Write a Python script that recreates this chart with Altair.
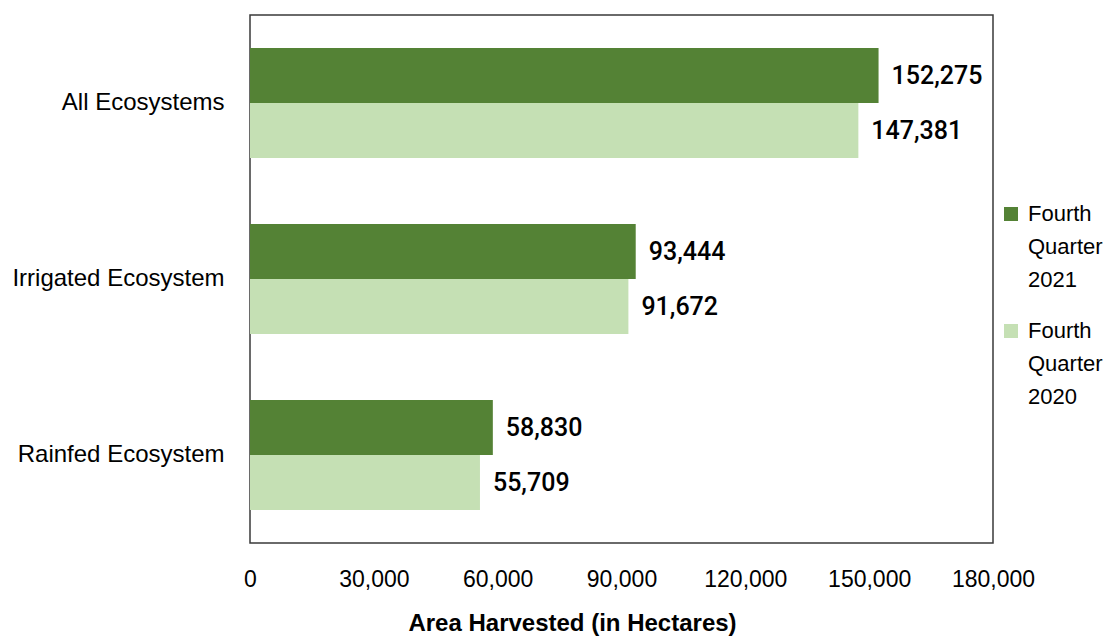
import altair as alt
import pandas as pd

categories = ["All Ecosystems", "Irrigated Ecosystem", "Rainfed Ecosystem"]
series = ["Fourth Quarter 2021", "Fourth Quarter 2020"]
values_2021 = [152275, 93444, 58830]
values_2020 = [147381, 91672, 55709]
x_ticks = [0, 30000, 60000, 90000, 120000, 150000, 180000]

rows = []
for c, v in zip(categories, values_2021):
    rows.append({"cat": c, "series": series[0], "value": v})
for c, v in zip(categories, values_2020):
    rows.append({"cat": c, "series": series[1], "value": v})
df = pd.DataFrame(rows)

FONT = "Liberation Sans"

y = alt.Y("cat:N", sort=categories, title=None,
          scale=alt.Scale(paddingInner=0.375, paddingOuter=0.1875),
          axis=alt.Axis(labelFont=FONT, labelFontSize=24, labelColor="#000000",
                        labelPadding=26, ticks=False, domain=False, labelLimit=400))
yoff = alt.YOffset("series:N", sort=series, scale=alt.Scale(paddingInner=0, paddingOuter=0))
x = alt.X("value:Q", title="Area Harvested (in Hectares)",
          scale=alt.Scale(domain=[0, 180000], nice=False),
          axis=alt.Axis(values=x_ticks, labelExpr="format(datum.value, ',')",
                        grid=False, ticks=False, domain=False, labelFlush=False,
                        labelFont=FONT, labelFontSize=23, labelColor="#000000",
                        labelPadding=25, titleFont=FONT, titleFontSize=24,
                        titleFontWeight="bold", titleColor="#000000",
                        titleX=322, titleY=80, titleAlign="center", titleBaseline="middle",
                        labelOverlap=False))

color = alt.Color("series:N", sort=series,
                  scale=alt.Scale(domain=series, range=["#548235", "#C5E0B4"]),
                  legend=alt.Legend(title=None, orient="none", legendX=750, legendY=178,
                                    labelExpr="split(datum.label, ' ')",
                                    labelFont=FONT, labelFontSize=22, labelColor="#000000",
                                    symbolType="M-1,0.43H1V2.43H-1Z", symbolSize=196,
                                    symbolStrokeWidth=0,
                                    labelOffset=6, rowPadding=19, labelBaseline="top"))

bars = alt.Chart(df).mark_bar().encode(y=y, yOffset=yoff, x=x, color=color)
text = alt.Chart(df).mark_text(align="left", baseline="middle", dx=13, font="Roboto",
                               fontSize=25, fontWeight=500, color="#000000").encode(
    y=y, yOffset=yoff, x=x, text=alt.Text("value:Q", format=","))

chart = (bars + text).properties(
    width=743, height=528,
    autosize=alt.AutoSizeParams(type="none"),
    padding={"left": 242, "top": 7, "right": 110, "bottom": 93},
).configure(style={"guide-label": {"lineHeight": 33}}).configure_view(
    stroke="#3a3a3a", strokeWidth=1.5)

chart.save("out.html", embed_options={"renderer": "svg", "actions": False})
